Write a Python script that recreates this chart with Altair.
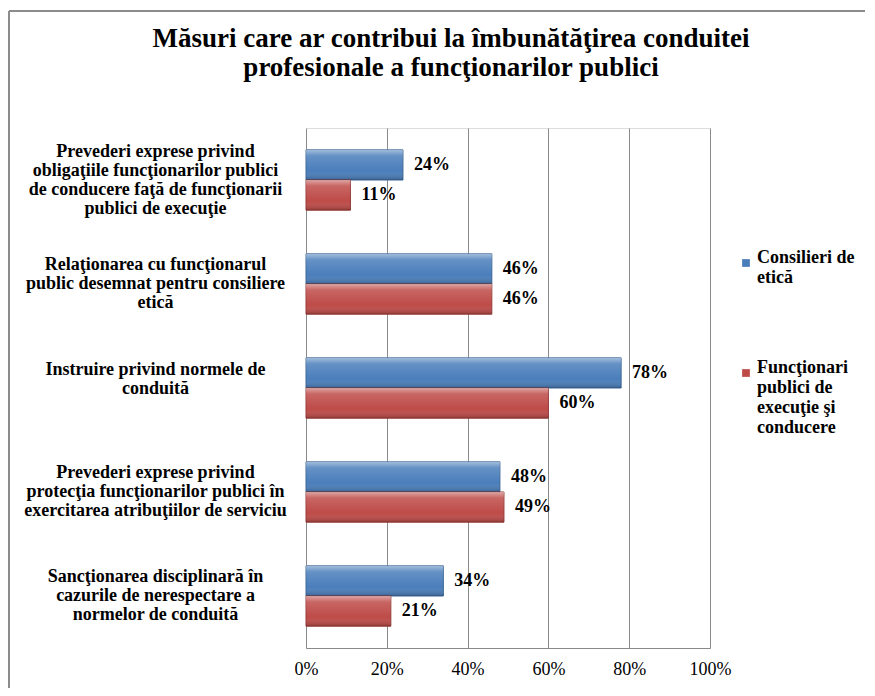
import altair as alt
import pandas as pd

# ---- data ----
categories = [
    "Prevederi exprese privind|obligaţiile funcţionarilor publici|de conducere faţă de funcţionarii|publici de execuţie",
    "Relaţionarea cu funcţionarul|public desemnat pentru consiliere|etică",
    "Instruire privind normele de|conduită",
    "Prevederi exprese privind|protecţia funcţionarilor publici în|exercitarea atribuţiilor de serviciu",
    "Sancţionarea disciplinară în|cazurile de nerespectare a|normelor de conduită",
]
series = ["Consilieri de|etică", "Funcţionari|publici de|execuţie şi|conducere"]
consilieri = [0.24, 0.46, 0.78, 0.48, 0.34]
functionari = [0.11, 0.46, 0.60, 0.49, 0.21]
x_ticks = [0, 0.2, 0.4, 0.6, 0.8, 1.0]
title_lines = [
    "Măsuri care ar contribui la îmbunătăţirea conduitei",
    "profesionale a funcţionarilor publici",
]
fill_colors = ["#4a7ebb", "#be4b48"]
stroke_colors = ["#3a6596", "#953a37"]

rows = []
for c, v1, v2 in zip(categories, consilieri, functionari):
    rows.append({"cat": c, "series": series[0], "value": v1})
    rows.append({"cat": c, "series": series[1], "value": v2})
df = pd.DataFrame(rows)

SERIF = "Liberation Serif, Times New Roman, DejaVu Serif, serif"
FS = 18
LH = 19

nlines = "length(split(datum.value, '|'))"
y_enc = alt.Y(
    "cat:N",
    sort=categories,
    scale=alt.Scale(paddingInner=0.42, paddingOuter=0.21),
    axis=alt.Axis(
        title=None,
        labelExpr="split(datum.label, '|')",
        labelAlign="center",
        labelPadding=151,
        labelOffset=alt.ExprRef(
            expr=f"{nlines} == 2 ? -18 : -({nlines} - 1) * {LH / 2}"
        ),
        ticks=False,
        domain=False,
        labelFont=SERIF,
        labelFontWeight="bold",
        labelFontSize=FS,
        labelLineHeight=LH,
        labelLimit=400,
        labelColor="black",
    ),
)
yoff = alt.YOffset("series:N", sort=series)
x_enc = alt.X(
    "value:Q",
    scale=alt.Scale(domain=[0, 1]),
    axis=alt.Axis(
        title=None,
        format=".0%",
        values=x_ticks,
        grid=True,
        gridColor="#8a8a8a",
        gridWidth=1,
        ticks=False,
        domain=True,
        domainColor="#8a8a8a",
        labelFont=SERIF,
        labelFontSize=FS,
        labelColor="black",
        labelPadding=12,
        labelFlush=False,
    ),
)

base = alt.Chart(df)

bars = base.mark_bar(strokeWidth=1).encode(
    x=x_enc,
    y=y_enc,
    yOffset=yoff,
    color=alt.Color(
        "series:N",
        sort=series,
        scale=alt.Scale(domain=series, range=fill_colors),
        legend=alt.Legend(
            orient="none",
            legendX=431,
            legendY=126,
            title=None,
            labelExpr="split(datum.label, '|')",
            symbolType="square",
            symbolSize=60,
            symbolStrokeWidth=0,
            labelFont=SERIF,
            labelFontSize=FS,
            labelFontWeight="bold",
            labelColor="black",
            labelBaseline="alphabetic",
            labelOffset=2,
            labelLimit=200,
            rowPadding=72,
            padding=0,
        ),
    ),
    stroke=alt.Stroke(
        "series:N",
        sort=series,
        scale=alt.Scale(domain=series, range=stroke_colors),
        legend=None,
    ),
)

shine = base.mark_bar(
    fill=alt.Gradient(
        gradient="linear",
        x1=0, x2=0, y1=0, y2=1,
        stops=[
            alt.GradientStop(offset=0, color="rgba(255,255,255,0.5)"),
            alt.GradientStop(offset=0.2, color="rgba(255,255,255,0.15)"),
            alt.GradientStop(offset=0.7, color="rgba(255,255,255,0)"),
            alt.GradientStop(offset=1, color="rgba(0,0,0,0.22)"),
        ],
    ),
    strokeWidth=0,
).encode(x="value:Q", y=alt.Y("cat:N", sort=categories), yOffset=yoff)

labels = base.mark_text(
    align="left", baseline="middle", dx=11,
    font=SERIF, fontWeight="bold", fontSize=FS, color="black",
).encode(
    x="value:Q",
    y=alt.Y("cat:N", sort=categories),
    yOffset=yoff,
    text=alt.Text("value:Q", format=".0%"),
)

frame_df = pd.DataFrame({"k": [0]})
frame_top = alt.Chart(frame_df).mark_rule(color="#8c8c8c", strokeWidth=2).encode(
    x=alt.value(-297), x2=alt.value(700), y=alt.value(-117)
)
frame_left = alt.Chart(frame_df).mark_rule(color="#8c8c8c", strokeWidth=2).encode(
    x=alt.value(-297), y=alt.value(-117), y2=alt.value(700)
)

chart = (
    alt.layer(bars, shine, labels, frame_top, frame_left)
    .properties(
        width=404,
        height=520,
        padding={"left": 298, "top": 120, "right": 155, "bottom": 40},
        autosize=alt.AutoSizeParams(type="none"),
        title=alt.TitleParams(
            text=title_lines,
            font=SERIF,
            fontSize=27,
            fontWeight="bold",
            color="black",
            anchor="middle",
            frame="group",
            dx=-57,
            offset=-72,
            lineHeight=29,
        ),
    )
    .configure_view(strokeWidth=0, stroke="transparent")
    .configure(background="white")
)

chart.save("out.html", embed_options={"renderer": "svg", "actions": False})
